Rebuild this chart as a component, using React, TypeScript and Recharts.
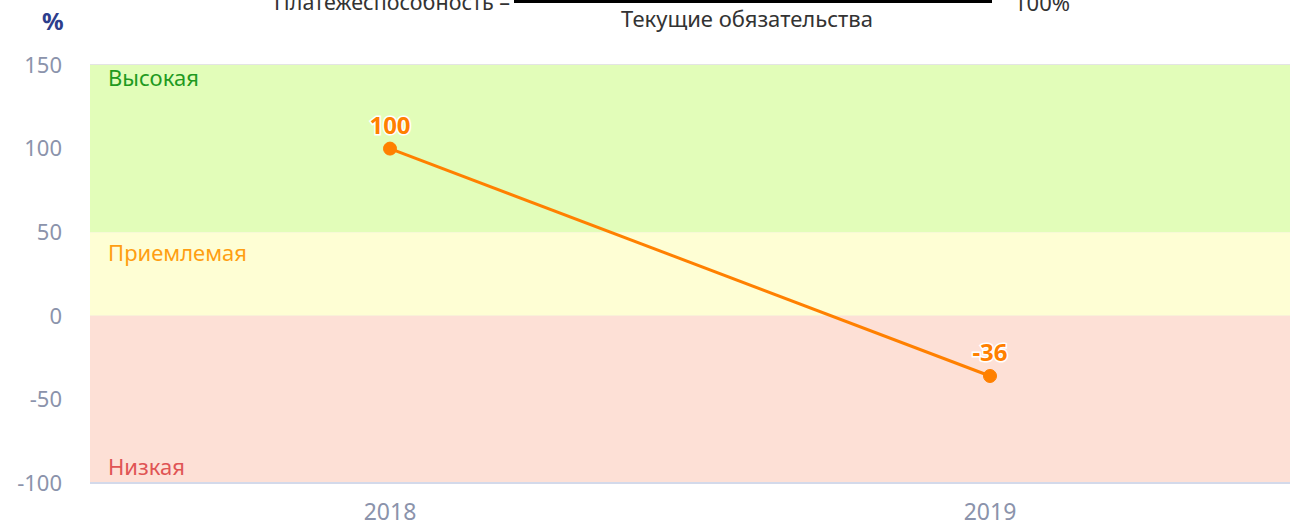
import React from 'react';
import { LineChart, Line, XAxis, YAxis, CartesianGrid, ReferenceArea, LabelList } from 'recharts';

const years = ['2018', '2019'];
const solvency = [100, -36];
const yTicks = [-100, -50, 0, 50, 100, 150];
const zones = [
  { from: 50, to: 150, name: 'Высокая', fill: '#e2fdb9', color: '#1f9a1f', pos: 'insideTopLeft', dy: -13 },
  { from: 0, to: 50, name: 'Приемлемая', fill: '#fefed4', color: '#ff9e12', pos: 'insideTopLeft', dy: -5 },
  { from: -100, to: 0, name: 'Низкая', fill: '#fde0d6', color: '#e05454', pos: 'insideBottomLeft', dy: 10 },
];

const data = years.map((y, i) => ({ year: y, value: solvency[i] }));
const FONT = '"Noto Sans", "Open Sans", sans-serif';

export default function App() {
  return (
    <div style={{ position: 'absolute', left: 0, top: 0, width: 1292, height: 532, fontFamily: FONT }}>
      <div style={{ position: 'absolute', left: 274, top: -13, whiteSpace: 'nowrap', fontSize: 21.5, color: '#333' }}>
        Платежеспособность –
      </div>
      <div style={{ position: 'absolute', left: 514, top: 0, width: 478, height: 3, background: '#000' }} />
      <div style={{ position: 'absolute', left: 497, top: 3, width: 500, textAlign: 'center', fontSize: 22, color: '#333' }}>
        Текущие обязательства
      </div>
      <div style={{ position: 'absolute', left: 1014, top: -13, fontSize: 22, color: '#333' }}>100%</div>
      <div style={{ position: 'absolute', left: 42, top: 4, fontSize: 24, fontWeight: 'bold', color: '#2d3e8c' }}>%</div>
      <LineChart width={1292} height={532} data={data} margin={{ top: 65, right: 2, left: 0, bottom: 0 }}>
        {zones.map((z) => (
          <ReferenceArea
            key={z.name}
            y1={z.from}
            y2={z.to}
            fill={z.fill}
            fillOpacity={1}
            stroke="none"
            ifOverflow="visible"
            label={{ value: z.name, position: z.pos as any, fill: z.color, fontSize: 22, fontFamily: FONT, offset: 18, dy: z.dy }}
          />
        ))}
        <CartesianGrid vertical={false} stroke="#e4e4e4" strokeWidth={2} />
        <XAxis
          dataKey="year"
          scale="band"
          axisLine={{ stroke: '#d3d9ea', strokeWidth: 2 }}
          tickLine={false}
          tickMargin={15}
          height={49}
          tick={{ fill: '#8b93ab', fontSize: 23, fontFamily: FONT }}
        />
        <YAxis
          domain={[-100, 150]}
          ticks={yTicks}
          width={90}
          axisLine={false}
          tickLine={false}
          tickMargin={22}
          interval={0}
          tick={{ fill: '#8b93ab', fontSize: 22, fontFamily: FONT }}
        />
        <Line
          dataKey="value"
          stroke="#ff8000"
          strokeWidth={3}
          dot={{ r: 6.5, fill: '#ff8000', stroke: '#ff8000', strokeWidth: 1 }}
          isAnimationActive={false}
        >
          <LabelList
            dataKey="value"
            position="top"
            offset={15}
            style={{ fill: '#ff8000', fontWeight: 'bold', fontSize: 24, fontFamily: FONT, stroke: '#fff', strokeWidth: 3, paintOrder: 'stroke' }}
          />
        </Line>
      </LineChart>
    </div>
  );
}
